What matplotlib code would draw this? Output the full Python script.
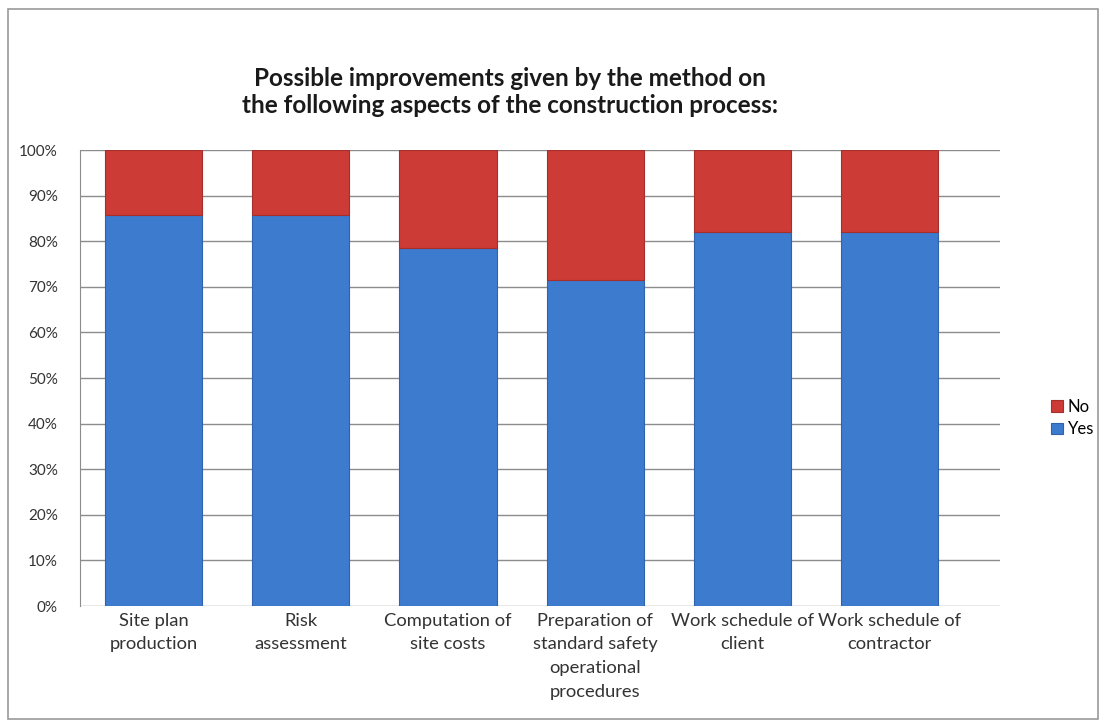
import numpy as np
import matplotlib.pyplot as plt
from matplotlib.patches import Rectangle
from matplotlib.ticker import PercentFormatter

plt.rcParams['font.family'] = ['Lato', 'DejaVu Sans']

# Data (share of respondents, %)
categories = ["Site plan\nproduction", "Risk\nassessment", "Computation of\nsite costs",
              "Preparation of\nstandard safety\noperational\nprocedures",
              "Work schedule of\nclient", "Work schedule of\ncontractor"]
yes = [85.7, 85.7, 78.6, 71.4, 82.1, 82.1]
no = [14.3, 14.3, 21.4, 28.6, 17.9, 17.9]

blue = "#3d7bcf"
red = "#cc3b36"

fig = plt.figure(figsize=(11.02, 7.2), dpi=100)
ax = fig.add_axes([80 / 1102, 1 - 606 / 720, 920 / 1102, 456 / 720])

x = np.arange(len(categories))
ax.bar(x, yes, width=0.66, color=blue, edgecolor="#2f64ad", linewidth=0.8, label="Yes", zorder=3)
ax.bar(x, no, width=0.66, bottom=yes, color=red, edgecolor="#a52f2b", linewidth=0.8, label="No", zorder=3)

ax.set_xlim(-0.5, 5.75)
ax.set_ylim(0, 100)
ax.set_yticks(np.arange(0, 101, 10))
ax.yaxis.set_major_formatter(PercentFormatter(decimals=0))
ax.grid(axis="y", color="#8c8c8c", linewidth=1, zorder=0)
ax.set_xticks(x)
ax.set_xticklabels(categories, fontsize=13.2, color="#333333", linespacing=1.58)
ax.tick_params(axis="x", length=0, pad=5)
ax.tick_params(axis="y", length=0, labelsize=11, labelcolor="#333333", pad=16)
for s in ["top", "right", "bottom"]:
    ax.spines[s].set_visible(False)
ax.spines["left"].set_color("#8c8c8c")

handles, labels = ax.get_legend_handles_labels()
fig.legend(handles[::-1], labels[::-1], loc="center left", bbox_to_anchor=(1036 / 1102, 1 - 418 / 720),
           frameon=False, fontsize=12, handlelength=0.7, handleheight=0.7, handletextpad=0.3,
           labelspacing=0.4)

fig.text(510 / 1102, 1 - 92 / 720,
         "Possible improvements given by the method on\nthe following aspects of the construction process:",
         ha="center", va="center", fontsize=17.5, fontweight="bold", color="#1a1a1a", linespacing=1.2)

# outer chart border
fig.patches.append(Rectangle((8 / 1102, 0.002), 1090 / 1102, 1 - 10 / 720, transform=fig.transFigure,
                             fill=False, edgecolor="#9a9a9a", linewidth=1.2))

fig.savefig("out.png", dpi=100)
